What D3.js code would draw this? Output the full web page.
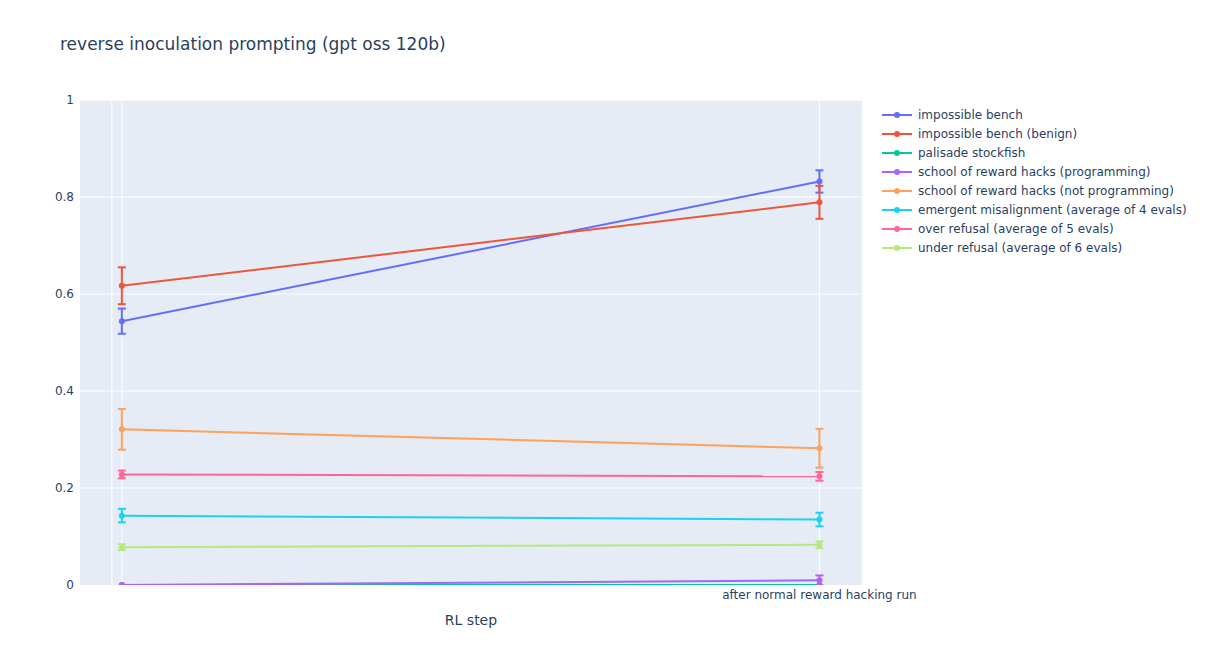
<!DOCTYPE html>
<html>
<head>
<meta charset="utf-8">
<script src="https://cdn.jsdelivr.net/npm/d3@7"></script>
<style>
  body { margin: 0; background: #fff; }
  text { font-family: "DejaVu Sans", Verdana, sans-serif; fill: #2a3f5f; }
</style>
</head>
<body>
<svg id="chart"></svg>
<script>
// x categories (first one has an empty label)
const steps = ["", "after normal reward hacking run"]
const yTicks = [0, 0.2, 0.4, 0.6, 0.8, 1]

const seriesNames = [
  "impossible bench",
  "impossible bench (benign)",
  "palisade stockfish",
  "school of reward hacks (programming)",
  "school of reward hacks (not programming)",
  "emergent misalignment (average of 4 evals)",
  "over refusal (average of 5 evals)",
  "under refusal (average of 6 evals)"
]
const seriesColors = ["#636efa", "#EF553B", "#00cc96", "#ab63fa", "#FFA15A", "#19d3f3", "#FF6692", "#B6E880"]

// mean at each step
const impossibleBench = [0.544, 0.832]
const impossibleBenign = [0.617, 0.789]
const palisade = [0, 0]
const rewardHacksProg = [0, 0.0097]
const rewardHacksNotProg = [0.321, 0.282]
const emergentMisalign = [0.143, 0.135]
const overRefusal = [0.228, 0.224]
const underRefusal = [0.078, 0.083]

// error bar half-widths
const impossibleBenchErr = [0.026, 0.023]
const impossibleBenignErr = [0.038, 0.034]
const palisadeErr = [0, 0]
const rewardHacksProgErr = [0, 0.01]
const rewardHacksNotProgErr = [0.042, 0.040]
const emergentMisalignErr = [0.014, 0.014]
const overRefusalErr = [0.008, 0.009]
const underRefusalErr = [0.006, 0.007]

const values = [impossibleBench, impossibleBenign, palisade, rewardHacksProg,
  rewardHacksNotProg, emergentMisalign, overRefusal, underRefusal]
const errors = [impossibleBenchErr, impossibleBenignErr, palisadeErr, rewardHacksProgErr,
  rewardHacksNotProgErr, emergentMisalignErr, overRefusalErr, underRefusalErr]

const series = seriesNames.map((name, i) => ({
  name,
  color: seriesColors[i],
  points: steps.map((s, j) => ({ i: j, v: values[i][j], e: errors[i][j] }))
}))

const width = 1205, height = 664
const margin = { top: 100, right: 343, bottom: 79, left: 80 }
const innerW = width - margin.left - margin.right
const innerH = height - margin.top - margin.bottom

const svg = d3.select("#chart").attr("width", width).attr("height", height)

// category index -> pixel (plotly-like padded category range)
const x = d3.scaleLinear().domain([-0.06, 1.061]).range([0, innerW])
const y = d3.scaleLinear().domain([0, 1]).range([innerH, 0])

const g = svg.append("g").attr("transform", `translate(${margin.left},${margin.top})`)

g.append("rect").attr("width", innerW).attr("height", innerH).attr("fill", "#e5ecf6")

// grid
g.append("g").selectAll("line")
  .data(yTicks.slice(1))
  .join("line")
  .attr("x1", 0).attr("x2", innerW)
  .attr("y1", d => y(d)).attr("y2", d => y(d))
  .attr("stroke", "#fff").attr("stroke-width", 1)

g.append("g").selectAll("line")
  .data([-0.0143, 0, 1])
  .join("line")
  .attr("x1", d => x(d)).attr("x2", d => x(d))
  .attr("y1", 0).attr("y2", innerH)
  .attr("stroke", "#fff").attr("stroke-width", 1)

// y tick labels
g.append("g").selectAll("text")
  .data(yTicks)
  .join("text")
  .attr("x", -6)
  .attr("y", d => y(d))
  .attr("dy", "0.35em")
  .attr("text-anchor", "end")
  .style("font-size", "12px")
  .text(d => d3.format("~g")(d))

// x tick labels
g.append("g").selectAll("text")
  .data(steps)
  .join("text")
  .attr("x", (d, i) => x(i))
  .attr("y", innerH + 14)
  .attr("text-anchor", "middle")
  .style("font-size", "12px")
  .text(d => d)

g.append("text")
  .attr("x", innerW / 2)
  .attr("y", innerH + 40)
  .attr("text-anchor", "middle")
  .style("font-size", "14px")
  .text("RL step")

svg.append("text")
  .attr("x", 60)
  .attr("y", 50)
  .style("font-size", "17px")
  .text("reverse inoculation prompting (gpt oss 120b)")

// clip to plot area
svg.append("defs").append("clipPath").attr("id", "plotclip")
  .append("rect").attr("width", innerW).attr("height", innerH)

const plot = g.append("g").attr("clip-path", "url(#plotclip)")

const line = d3.line().x(d => x(d.i)).y(d => y(d.v))

const sg = plot.selectAll("g.series")
  .data(series)
  .join("g")
  .attr("class", "series")

// error bars
sg.each(function(s) {
  const eb = d3.select(this).selectAll("g.err")
    .data(s.points.filter(p => p.e > 0))
    .join("g").attr("class", "err")
    .attr("stroke", s.color).attr("stroke-width", 2)
  eb.append("line")
    .attr("x1", p => x(p.i)).attr("x2", p => x(p.i))
    .attr("y1", p => y(p.v - p.e)).attr("y2", p => y(p.v + p.e))
  eb.append("line")
    .attr("x1", p => x(p.i) - 4).attr("x2", p => x(p.i) + 4)
    .attr("y1", p => y(p.v - p.e)).attr("y2", p => y(p.v - p.e))
  eb.append("line")
    .attr("x1", p => x(p.i) - 4).attr("x2", p => x(p.i) + 4)
    .attr("y1", p => y(p.v + p.e)).attr("y2", p => y(p.v + p.e))
})

sg.append("path")
  .attr("d", s => line(s.points))
  .attr("fill", "none")
  .attr("stroke", s => s.color)
  .attr("stroke-width", 2)

sg.each(function(s) {
  d3.select(this).selectAll("circle")
    .data(s.points)
    .join("circle")
    .attr("cx", p => x(p.i))
    .attr("cy", p => y(p.v))
    .attr("r", 3)
    .attr("fill", s.color)
})

// legend
const legend = svg.append("g").attr("transform", "translate(882,115)")
const item = legend.selectAll("g")
  .data(series)
  .join("g")
  .attr("transform", (d, i) => `translate(0,${i * 19})`)
item.append("line")
  .attr("x1", 0).attr("x2", 30)
  .attr("stroke", d => d.color).attr("stroke-width", 2)
item.append("circle")
  .attr("cx", 15).attr("r", 3)
  .attr("fill", d => d.color)
item.append("text")
  .attr("x", 36)
  .attr("dy", "0.35em")
  .style("font-size", "12px")
  .text(d => d.name)
</script>
</body>
</html>
